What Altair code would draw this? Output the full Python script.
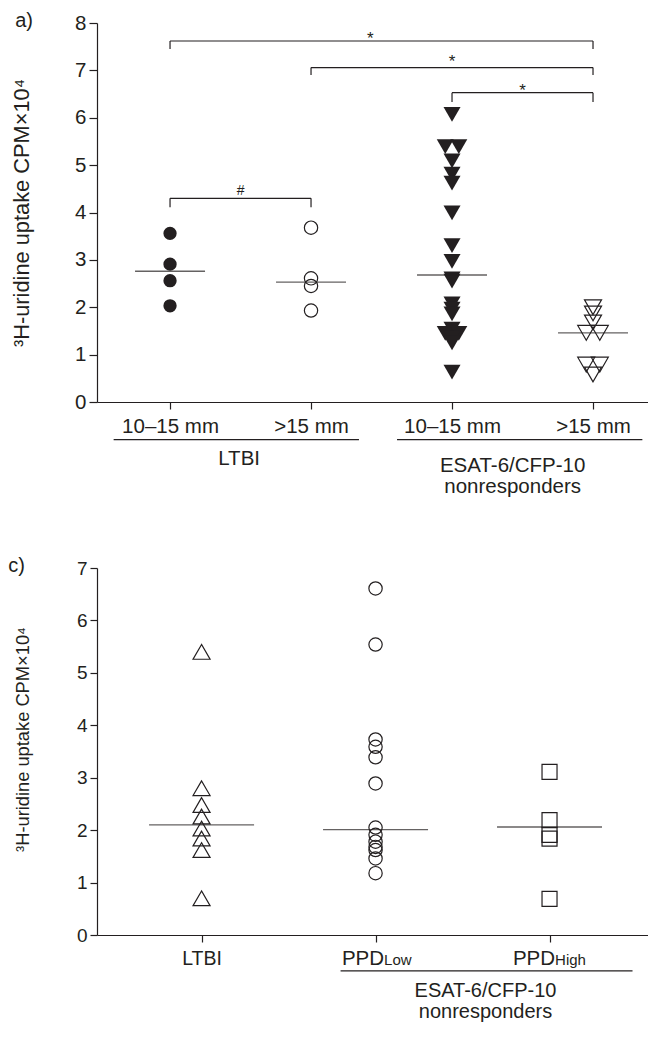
import json
import altair as alt
import pandas as pd

FONT = "Liberation Sans"
INK = "#231f20"
JIT = 0.048  # side-by-side spacing (category units) for tied symbols

# ---------------- Panel a) ----------------
a_tick_labels = ["10–15 mm", ">15 mm", "10–15 mm", ">15 mm"]
a_ltbi_10_15 = [3.56, 2.91, 2.56, 2.03]
a_ltbi_gt15 = [3.68, 2.61, 2.45, 1.93]
a_esat_10_15 = [6.07, 5.39, 5.39, 5.09, 4.81, 4.62, 3.99, 3.30, 2.97, 2.60,
                2.55, 2.07, 1.96, 1.86, 1.54, 1.45, 1.45, 1.35, 1.25, 0.63]
a_esat_10_15_side = [0, -1, 1, 0, 0, 0, 0, 0, 0, 0,
                     0, 0, 0, 0, 0, -1, 1, 0, 0, 0]
a_esat_gt15 = [2.00, 1.87, 1.68, 1.46, 1.46, 0.79, 0.79, 0.58]
a_esat_gt15_side = [0, 0, 0, -1, 1, -1, 1, 0]
a_medians = [2.76, 2.53, 2.68, 1.46]

a_brk_from = [0, 1, 2, 0]
a_brk_to = [3, 3, 3, 1]
a_brk_y = [7.62, 7.06, 6.53, 4.30]
a_brk_end = [7.45, 6.90, 6.33, 4.11]
a_brk_label = ["*", "*", "*", "#"]
a_brk_label_x = [1.42, 2.0, 2.5, 0.5]
a_brk_label_y = [7.55, 7.07, 6.46, 4.37]

a_group_text = ["LTBI", "ESAT-6/CFP-10", "nonresponders"]
a_group_x = [0.49, 2.43, 2.43]
a_group_y = [-1.33, -1.47, -1.93]
a_under_x = [-0.40, 1.61]
a_under_x2 = [1.34, 3.35]
a_under_y = [-0.795, -0.795]

# ---------------- Panel c) ----------------
c_ltbi = [5.40, 2.80, 2.48, 2.26, 2.03, 1.84, 1.62, 0.70]
c_ppd_low = [6.61, 5.54, 3.73, 3.59, 3.39, 2.89, 2.05, 1.91, 1.78, 1.68, 1.62, 1.46, 1.18]
c_ppd_high = [3.11, 2.19, 1.91, 1.84, 0.69]
c_medians = [2.10, 2.01, 2.06]

c_tick_main = ["LTBI", "PPD", "PPD"]
c_tick_sub = ["", "Low", "High"]
c_sub_anchor_x = [0.0, 1.049, 2.032]
c_tick_y = [-0.571, -0.571, -0.571]
c_group_text = ["ESAT-6/CFP-10", "nonresponders"]
c_group_x = [1.632, 1.632]
c_group_y = [-1.181, -1.575]
c_under_x = [0.799]
c_under_x2 = [2.477]
c_under_y = [-0.686]

Y_TITLE = "³H-uridine uptake CPM×10⁴"


def pts_df(values, g, side=None):
    side = side if side is not None else [0] * len(values)
    return pd.DataFrame({"g": [g] * len(values), "y": values, "side": side})


def make_panel(xs, ys, xaxis, yaxis, groups, medians, med_size, panel_label,
               label_xy, label_size):
    X = lambda f: alt.X(f, scale=xs, axis=xaxis)
    Y = lambda f: alt.Y(f, scale=ys, axis=yaxis)
    layers = []
    for df, shape, filled, size in groups:
        layers.append(
            alt.Chart(df)
            .transform_calculate(x=f"datum.g + datum.side * {JIT}")
            .mark_point(shape=shape, filled=filled, size=size, color=INK,
                        strokeWidth=1.2, opacity=1)
            .encode(x=X("x:Q"), y=Y("y:Q"))
        )
    med = pd.DataFrame({"x": list(range(len(medians))), "y": medians})
    layers.append(
        alt.Chart(med)
        .mark_tick(orient="horizontal", size=med_size, thickness=1.4, color=INK)
        .encode(x=X("x:Q"), y=Y("y:Q"))
    )
    lab = pd.DataFrame({"x": [label_xy[0]], "y": [label_xy[1]], "t": [panel_label]})
    layers.append(
        alt.Chart(lab)
        .mark_text(font=FONT, fontSize=label_size, color=INK, align="center",
                   baseline="middle")
        .encode(x=X("x:Q"), y=Y("y:Q"), text="t:N")
    )
    return layers, X, Y


# ---------- build panel a ----------
xs_a = alt.Scale(domain=[-0.518, 3.390], nice=False, zero=False)
ys_a = alt.Scale(domain=[0, 8], nice=False, zero=True)
xaxis_a = alt.Axis(values=[0, 1, 2, 3], title=None,
                   labelExpr=json.dumps(a_tick_labels, ensure_ascii=False) + "[datum.value]",
                   labelFontSize=20.5, labelPadding=7, tickSize=7,
                   labelFlush=False, labelOverlap=False)
yaxis_a = alt.Axis(values=list(range(9)), title=Y_TITLE, titleFontSize=21.8,
                   titlePadding=41, labelFontSize=20.5, labelPadding=3, tickSize=8,
                   labelFlush=False, labelOverlap=False)

layers_a, XA, YA = make_panel(
    xs_a, ys_a, xaxis_a, yaxis_a,
    [
        (pts_df(a_ltbi_10_15, 0), "circle", True, 177),
        (pts_df(a_ltbi_gt15, 1), "circle", False, 177),
        (pts_df(a_esat_10_15, 2, a_esat_10_15_side), "triangle-down", True, 290),
        (pts_df(a_esat_gt15, 3, a_esat_gt15_side), "triangle-down", False, 290),
    ],
    a_medians, 70, "a)", (-1.035, 8.04), 20,
)

brk = pd.DataFrame({"x": a_brk_from, "x2": a_brk_to, "y": a_brk_y, "yend": a_brk_end,
                    "t": a_brk_label, "tx": a_brk_label_x, "ty": a_brk_label_y})
layers_a.append(
    alt.Chart(brk).mark_rule(color=INK, strokeWidth=1.2)
    .encode(x=XA("x:Q"), x2="x2:Q", y=YA("y:Q"))
)
layers_a.append(
    alt.Chart(brk).transform_fold(["x", "x2"], as_=["end", "xe"])
    .mark_rule(color=INK, strokeWidth=1.2)
    .encode(x=XA("xe:Q"), y=YA("y:Q"), y2="yend:Q")
)
layers_a.append(
    alt.Chart(brk).transform_filter("datum.t == '*'")
    .mark_text(font=FONT, fontSize=17, color=INK, baseline="alphabetic")
    .encode(x=XA("tx:Q"), y=YA("ty:Q"), text="t:N")
)
layers_a.append(
    alt.Chart(brk).transform_filter("datum.t == '#'")
    .mark_text(font=FONT, fontSize=14, color=INK, baseline="alphabetic")
    .encode(x=XA("tx:Q"), y=YA("ty:Q"), text="t:N")
)
grp_a = pd.DataFrame({"x": a_group_x, "y": a_group_y, "t": a_group_text})
layers_a.append(
    alt.Chart(grp_a).mark_text(font=FONT, fontSize=20.5, color=INK, baseline="alphabetic")
    .encode(x=XA("x:Q"), y=YA("y:Q"), text="t:N")
)
und_a = pd.DataFrame({"x": a_under_x, "x2": a_under_x2, "y": a_under_y})
layers_a.append(
    alt.Chart(und_a).mark_rule(color=INK, strokeWidth=1.2)
    .encode(x=XA("x:Q"), x2="x2:Q", y=YA("y:Q"))
)

top = alt.layer(*layers_a).properties(width=551, height=379)

# ---------- build panel c ----------
xs_c = alt.Scale(domain=[-0.601, 2.566], nice=False, zero=False)
ys_c = alt.Scale(domain=[0, 7], nice=False, zero=True)
xaxis_c = alt.Axis(values=[0, 1, 2], title=None,
                   labelExpr=json.dumps(c_tick_main[:1] + ["", ""], ensure_ascii=False) + "[datum.value]",
                   labelFontSize=19.5, labelPadding=7, tickSize=7,
                   labelFlush=False, labelOverlap=False)
yaxis_c = alt.Axis(values=list(range(8)), title=Y_TITLE, titleFontSize=18.3,
                   titlePadding=44, titleY=171, labelFontSize=19, labelPadding=3,
                   tickSize=7, labelFlush=False, labelOverlap=False)

layers_c, XC, YC = make_panel(
    xs_c, ys_c, xaxis_c, yaxis_c,
    [
        (pts_df(c_ltbi, 0), "triangle-up", False, 290),
        (pts_df(c_ppd_low, 1), "circle", False, 177),
        (pts_df(c_ppd_high, 2), "square", False, 225),
    ],
    c_medians, 105, "c)", (-1.063, 7.03), 20,
)

ticks_c = pd.DataFrame({"x": c_sub_anchor_x, "y": c_tick_y,
                        "main": c_tick_main, "sub": c_tick_sub}).iloc[1:]
layers_c.append(
    alt.Chart(ticks_c).mark_text(font=FONT, fontSize=20.5, color=INK,
                                 align="right", baseline="alphabetic")
    .encode(x=XC("x:Q"), y=YC("y:Q"), text="main:N")
)
layers_c.append(
    alt.Chart(ticks_c).mark_text(font=FONT, fontSize=15, color=INK,
                                 align="left", baseline="alphabetic")
    .encode(x=XC("x:Q"), y=YC("y:Q"), text="sub:N")
)
grp_c = pd.DataFrame({"x": c_group_x, "y": c_group_y, "t": c_group_text})
layers_c.append(
    alt.Chart(grp_c).mark_text(font=FONT, fontSize=20, color=INK, baseline="alphabetic")
    .encode(x=XC("x:Q"), y=YC("y:Q"), text="t:N")
)
und_c = pd.DataFrame({"x": c_under_x, "x2": c_under_x2, "y": c_under_y})
layers_c.append(
    alt.Chart(und_c).mark_rule(color=INK, strokeWidth=1.2)
    .encode(x=XC("x:Q"), x2="x2:Q", y=YC("y:Q"))
)

bottom = alt.layer(*layers_c).properties(width=551, height=367)

chart = (
    alt.vconcat(top, bottom, spacing=58)
    .properties(padding={"left": 0, "top": 3, "right": 0, "bottom": 0},
                background="white")
    .configure_view(stroke=None)
    .configure_axis(grid=False, domainColor=INK, domainWidth=1.2, tickColor=INK,
                    tickWidth=1.2, labelColor=INK, labelFont=FONT, titleFont=FONT,
                    titleColor=INK, titleFontWeight="normal")
)

chart.save("out.html", embed_options={"renderer": "svg", "actions": False})
